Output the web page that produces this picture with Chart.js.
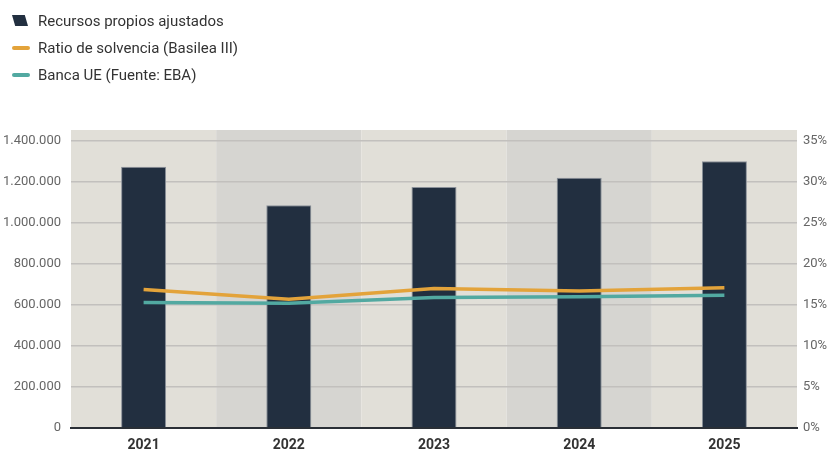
<!DOCTYPE html>
<html>
<head>
<meta charset="utf-8">
<script src="https://cdn.jsdelivr.net/npm/chart.js@4"></script>
<style>
  body { margin: 0; background: #fff; font-family: Roboto, sans-serif; }
  #wrap { position: relative; width: 831px; height: 452px; }
  #legend { position: absolute; left: 12px; top: 7px; font-size: 15px; color: #333; }
  #legend div { height: 27px; display: flex; align-items: center; }
  .sw { display: inline-block; width: 18px; margin-right: 8px; }
  .bar { height: 11px; background: #222f40; clip-path: polygon(0 0, 80% 0, 100% 100%, 20% 100%); width: 16px; margin-right: 10px; }
  .ln { height: 4px; border-radius: 2px; }
</style>
</head>
<body>
<div id="wrap">
  <div id="legend">
    <div><span class="sw bar"></span>Recursos propios ajustados</div>
    <div><span class="sw ln" style="background:#e3a33a"></span>Ratio de solvencia (Basilea III)</div>
    <div><span class="sw ln" style="background:#52a9a1"></span>Banca UE (Fuente: EBA)</div>
  </div>
  <canvas id="myChart" width="831" height="452"></canvas>
</div>
<script>
(() => {
  'use strict'

  const years = ['2021', '2022', '2023', '2024', '2025'];
  const recursosPropios = [1275000, 1086000, 1176000, 1221000, 1301000];
  const ratioSolvencia = [16.9, 15.7, 17.0, 16.7, 17.1];
  const bancaUE = [15.3, 15.2, 15.9, 16.0, 16.2];

  // alternating column backgrounds
  const bandsPlugin = {
    id: 'bands',
    beforeDraw(chart) {
      const {ctx, chartArea} = chart;
      const w = (chartArea.right - chartArea.left) / years.length;
      ctx.save();
      for (let i = 0; i < years.length; i++) {
        ctx.fillStyle = i % 2 === 0 ? '#e1dfd8' : '#d6d5d1';
        ctx.fillRect(chartArea.left + i * w, chartArea.top - 11, w, chartArea.bottom - chartArea.top + 11);
      }
      ctx.restore();
    }
  };

  const ctx = document.getElementById('myChart');
  const myChart = new Chart(ctx, {
    data: {
      labels: years,
      datasets: [{
        type: 'line',
        data: ratioSolvencia,
        yAxisID: 'y1',
        borderColor: '#e3a33a',
        borderWidth: 3.5,
        pointRadius: 0,
        tension: 0,
        order: 1
      }, {
        type: 'line',
        data: bancaUE,
        yAxisID: 'y1',
        borderColor: '#52a9a1',
        borderWidth: 3.5,
        pointRadius: 0,
        tension: 0,
        order: 2
      }, {
        type: 'bar',
        data: recursosPropios,
        yAxisID: 'y',
        backgroundColor: '#222f40',
        borderColor: '#8a9099',
        borderWidth: 1,
        categoryPercentage: 1,
        barPercentage: 0.31,
        order: 3
      }]
    },
    options: {
      responsive: false,
      animation: false,
      layout: { padding: { top: 141, bottom: 0 } },
      plugins: { legend: { display: false }, tooltip: { enabled: false } },
      scales: {
        x: {
          afterFit: (scale) => { scale.height = 24; },
          grid: { display: false, drawTicks: false },
          border: { color: '#2a2f36', width: 2 },
          ticks: { color: '#333', font: { family: 'Roboto', size: 14, weight: 'bold' }, padding: 9 }
        },
        y: {
          position: 'left',
          min: 0, max: 1400000,
          afterFit: (scale) => { scale.width = 71; },
          grid: { color: '#c2c0bd', lineWidth: 1.5, drawTicks: false },
          border: { display: false },
          ticks: {
            stepSize: 200000, padding: 10, color: '#666',
            font: { family: 'Roboto', size: 13 },
            callback: (v) => v.toLocaleString('de-DE')
          }
        },
        y1: {
          position: 'right',
          min: 0, max: 35,
          afterFit: (scale) => { scale.width = 34; },
          grid: { display: false, drawTicks: false },
          border: { display: false },
          ticks: {
            stepSize: 5, padding: 6, color: '#666',
            font: { family: 'Roboto', size: 13 },
            callback: (v) => v + '%'
          }
        }
      }
    },
    plugins: [bandsPlugin]
  });
})();
</script>
</body>
</html>
